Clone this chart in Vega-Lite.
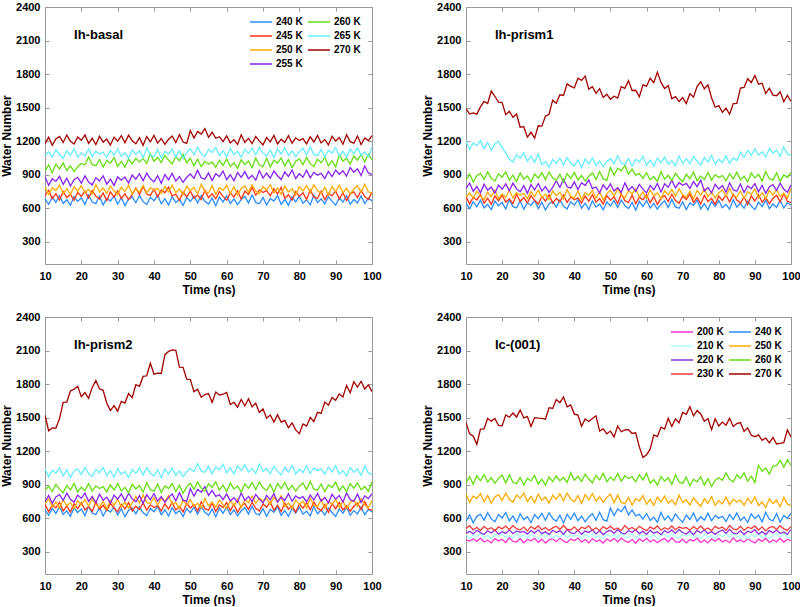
{
"$schema":"https://vega.github.io/schema/vega-lite/v6.json",
"background":"white",
"padding":{"left":0,"top":0,"right":2,"bottom":0},
"config":{"view":{"stroke":"#999999","strokeWidth":1},"font":"Liberation Sans",
"axis":{"domain":false,"grid":false,"tickColor":"#999999","tickSize":-4,"labelFlush":false,"minExtent":0,"labelFont":"Liberation Sans","labelFontWeight":"bold","labelFontSize":11,"labelColor":"#000000","titleFont":"Liberation Sans","titleFontWeight":"bold","titleFontSize":12,"titleColor":"#000000"},
"axisLeft":{"labelPadding":9,"titlePadding":2},
"axisBottom":{"labelPadding":10,"titlePadding":3}},
"datasets":{
"p1":[
{"t":10,"240":682,"245":712,"250":790,"255":881,"260":931,"265":1069,"270":1177},
{"t":11,"240":635,"245":760,"250":722,"255":804,"260":986,"265":1104,"270":1234},
{"t":12,"240":698,"245":685,"250":782,"255":863,"260":917,"265":1058,"270":1163},
{"t":13,"240":652,"245":730,"250":758,"255":839,"260":995,"265":1122,"270":1220},
{"t":14,"240":711,"245":673,"250":807,"255":884,"260":949,"265":1080,"270":1241},
{"t":15,"240":643,"245":749,"250":729,"255":812,"260":1005,"265":1046,"270":1188},
{"t":16,"240":675,"245":695,"250":774,"255":869,"260":937,"265":1113,"270":1254},
{"t":17,"240":626,"245":723,"250":720,"255":798,"260":978,"265":1073,"270":1198},
{"t":18,"240":703,"245":669,"250":794,"255":855,"260":926,"265":1131,"270":1173},
{"t":19,"240":661,"245":741,"250":751,"255":876,"260":971,"265":1055,"270":1237},
{"t":20,"240":692,"245":704,"250":802,"255":823,"260":1000,"265":1097,"270":1207},
{"t":21,"240":632,"245":753,"250":739,"255":889,"260":986,"265":1067,"270":1255},
{"t":22,"240":717,"245":690,"250":768,"255":833,"260":1058,"265":1129,"270":1180},
{"t":23,"240":655,"245":758,"250":725,"255":808,"260":991,"265":1061,"270":1225},
{"t":24,"240":641,"245":707,"250":811,"255":872,"260":979,"265":1109,"270":1168},
{"t":25,"240":706,"245":681,"250":744,"255":842,"260":1035,"265":1085,"270":1244},
{"t":26,"240":629,"245":736,"250":779,"255":890,"260":967,"265":1102,"270":1190},
{"t":27,"240":688,"245":667,"250":733,"255":815,"260":1027,"265":1055,"270":1218},
{"t":28,"240":664,"245":745,"250":797,"255":860,"260":1003,"265":1118,"270":1164},
{"t":29,"240":709,"245":699,"250":755,"255":803,"260":1052,"265":1072,"270":1236},
{"t":30,"240":637,"245":755,"250":721,"255":879,"260":974,"265":1131,"270":1199},
{"t":31,"240":694,"245":687,"250":788,"255":850,"260":1019,"265":1063,"270":1248},
{"t":32,"240":623,"245":728,"250":748,"255":878,"260":965,"265":1095,"270":1185},
{"t":33,"240":680,"245":676,"250":806,"255":824,"260":1039,"265":1046,"270":1253},
{"t":34,"240":701,"245":721,"250":730,"255":896,"260":996,"265":1123,"270":1202},
{"t":35,"240":648,"245":780,"250":772,"255":859,"260":1047,"265":1081,"270":1176},
{"t":36,"240":714,"245":721,"250":742,"255":908,"260":1014,"265":1112,"270":1231},
{"t":37,"240":658,"245":793,"250":804,"255":845,"260":1043,"265":1052,"270":1162},
{"t":38,"240":633,"245":726,"250":736,"255":913,"260":1000,"265":1137,"270":1240},
{"t":39,"240":697,"245":714,"250":784,"255":862,"260":1086,"265":1075,"270":1194},
{"t":40,"240":667,"245":770,"250":760,"255":836,"260":1019,"265":1061,"270":1250},
{"t":41,"240":715,"245":702,"250":777,"255":891,"260":1054,"265":1126,"270":1182},
{"t":42,"240":640,"245":762,"250":730,"255":822,"260":1008,"265":1049,"270":1223},
{"t":43,"240":685,"245":738,"250":793,"255":900,"260":1072,"265":1108,"270":1171},
{"t":44,"240":628,"245":787,"250":747,"255":854,"260":1030,"265":1084,"270":1216},
{"t":45,"240":704,"245":709,"250":806,"255":910,"260":996,"265":1129,"270":1245},
{"t":46,"240":650,"245":724,"250":738,"255":842,"260":1063,"265":1057,"270":1186},
{"t":47,"240":678,"245":670,"250":770,"255":883,"260":1023,"265":1114,"270":1258},
{"t":48,"240":624,"245":744,"250":721,"255":831,"260":1081,"265":1043,"270":1191},
{"t":49,"240":696,"245":701,"250":798,"255":876,"260":1005,"265":1100,"270":1179},
{"t":50,"240":659,"245":752,"250":756,"255":905,"260":1047,"265":1131,"270":1295},
{"t":51,"240":708,"245":689,"250":787,"255":866,"260":977,"265":1078,"270":1227},
{"t":52,"240":645,"245":718,"250":727,"255":938,"260":1039,"265":1144,"270":1287},
{"t":53,"240":713,"245":675,"250":812,"255":871,"260":971,"265":1088,"270":1263},
{"t":54,"240":662,"245":761,"250":750,"255":859,"260":1019,"265":1063,"270":1312},
{"t":55,"240":636,"245":694,"250":736,"255":915,"260":995,"265":1127,"270":1234},
{"t":56,"240":691,"245":729,"250":801,"255":847,"260":1012,"265":1097,"270":1279},
{"t":57,"240":622,"245":683,"250":724,"255":907,"260":965,"265":1145,"270":1225},
{"t":58,"240":700,"245":747,"250":783,"255":883,"260":1028,"265":1070,"270":1239},
{"t":59,"240":654,"245":705,"250":759,"255":932,"260":982,"265":1115,"270":1196},
{"t":60,"240":710,"245":671,"250":804,"255":854,"260":1041,"265":1058,"270":1247},
{"t":61,"240":642,"245":738,"250":732,"255":899,"260":973,"265":1134,"270":1184},
{"t":62,"240":683,"245":698,"250":789,"255":845,"260":1005,"265":1080,"270":1213},
{"t":63,"240":631,"245":756,"250":718,"255":919,"260":956,"265":1108,"270":1170},
{"t":64,"240":676,"245":680,"250":775,"255":876,"260":1033,"265":1054,"270":1256},
{"t":65,"240":705,"245":752,"250":796,"255":927,"260":991,"265":1126,"270":1189},
{"t":66,"240":646,"245":722,"250":743,"255":864,"260":1022,"265":1089,"270":1224},
{"t":67,"240":718,"245":784,"250":809,"255":893,"260":962,"265":1138,"270":1178},
{"t":68,"240":651,"245":716,"250":753,"255":850,"260":1047,"265":1075,"270":1242},
{"t":69,"240":639,"245":764,"250":728,"255":936,"260":985,"265":1143,"270":1200},
{"t":70,"240":695,"245":740,"250":792,"255":869,"260":971,"265":1092,"270":1166},
{"t":71,"240":627,"245":757,"250":762,"255":914,"260":1046,"265":1066,"270":1233},
{"t":72,"240":687,"245":710,"250":810,"255":868,"260":969,"265":1121,"270":1193},
{"t":73,"240":663,"245":773,"250":735,"255":932,"260":1028,"265":1052,"270":1251},
{"t":74,"240":712,"245":727,"250":780,"255":890,"260":1004,"265":1130,"270":1175},
{"t":75,"240":634,"245":786,"250":723,"255":856,"260":1049,"265":1084,"270":1217},
{"t":76,"240":679,"245":688,"250":799,"255":923,"260":977,"265":1140,"270":1187},
{"t":77,"240":625,"245":720,"250":745,"255":883,"260":1034,"265":1072,"270":1249},
{"t":78,"240":699,"245":671,"250":773,"255":941,"260":963,"265":1113,"270":1181},
{"t":79,"240":656,"245":748,"250":719,"255":865,"260":1020,"265":1061,"270":1229},
{"t":80,"240":707,"245":706,"250":791,"255":907,"260":1041,"265":1106,"270":1205},
{"t":81,"240":644,"245":737,"250":754,"255":877,"260":988,"265":1135,"270":1222},
{"t":82,"240":673,"245":677,"250":803,"255":939,"260":1054,"265":1076,"270":1175},
{"t":83,"240":630,"245":762,"250":740,"255":871,"260":998,"265":1148,"270":1238},
{"t":84,"240":716,"245":700,"250":808,"255":919,"260":973,"265":1081,"270":1192},
{"t":85,"240":649,"245":686,"250":757,"255":895,"260":1037,"265":1069,"270":1251},
{"t":86,"240":684,"245":751,"250":731,"255":912,"260":1007,"265":1125,"270":1183},
{"t":87,"240":638,"245":674,"250":786,"255":865,"260":1055,"265":1057,"270":1215},
{"t":88,"240":702,"245":733,"250":717,"255":928,"260":980,"265":1117,"270":1166},
{"t":89,"240":660,"245":709,"250":795,"255":882,"260":1025,"265":1093,"270":1243},
{"t":90,"240":626,"245":754,"250":749,"255":941,"260":968,"265":1142,"270":1201},
{"t":91,"240":693,"245":682,"250":805,"255":903,"260":1074,"265":1064,"270":1232},
{"t":92,"240":653,"245":739,"250":737,"255":935,"260":1020,"265":1109,"270":1172},
{"t":93,"240":711,"245":668,"250":778,"255":886,"260":1048,"265":1055,"270":1257},
{"t":94,"240":635,"245":725,"250":726,"255":963,"260":994,"265":1129,"270":1195},
{"t":95,"240":677,"245":746,"250":771,"255":921,"260":1066,"265":1086,"270":1181},
{"t":96,"240":647,"245":693,"250":800,"255":952,"260":1029,"265":1137,"270":1246},
{"t":97,"240":709,"245":759,"250":741,"255":892,"260":1078,"265":1074,"270":1169},
{"t":98,"240":641,"245":703,"250":813,"255":977,"260":1015,"265":1103,"270":1228},
{"t":99,"240":689,"245":678,"250":746,"255":915,"260":1083,"265":1060,"270":1204},
{"t":100,"240":665,"245":742,"250":734,"255":901,"260":1032,"265":1146,"270":1249}
],
"p2":[
{"t":10,"240":642,"245":705,"250":699,"255":777,"260":847,"265":1201,"270":1490},
{"t":11,"240":595,"245":637,"250":734,"255":825,"260":904,"265":1124,"270":1442},
{"t":12,"240":658,"245":697,"250":688,"255":750,"260":833,"265":1183,"270":1453},
{"t":13,"240":612,"245":673,"250":752,"255":795,"260":890,"265":1159,"270":1441},
{"t":14,"240":671,"245":722,"250":710,"255":738,"260":911,"265":1204,"270":1506},
{"t":15,"240":603,"245":644,"250":676,"255":814,"260":858,"265":1132,"270":1555},
{"t":16,"240":635,"245":689,"250":743,"255":760,"260":924,"265":1189,"270":1536},
{"t":17,"240":586,"245":635,"250":703,"255":788,"260":868,"265":1118,"270":1648},
{"t":18,"240":663,"245":709,"250":761,"255":734,"260":843,"265":1175,"270":1601},
{"t":19,"240":621,"245":666,"250":685,"255":806,"260":907,"265":1196,"270":1549},
{"t":20,"240":652,"245":717,"250":727,"255":769,"260":877,"265":1143,"270":1545},
{"t":21,"240":592,"245":654,"250":697,"255":818,"260":925,"265":1094,"270":1437},
{"t":22,"240":677,"245":683,"250":759,"255":755,"260":850,"265":1038,"270":1467},
{"t":23,"240":615,"245":640,"250":691,"255":823,"260":895,"265":1013,"270":1413},
{"t":24,"240":601,"245":726,"250":739,"255":772,"260":838,"265":1077,"270":1442},
{"t":25,"240":666,"245":659,"250":715,"255":746,"260":914,"265":1047,"270":1324},
{"t":26,"240":589,"245":694,"250":732,"255":801,"260":860,"265":1095,"270":1329},
{"t":27,"240":648,"245":648,"250":685,"255":732,"260":888,"265":1020,"270":1235},
{"t":28,"240":624,"245":712,"250":748,"255":810,"260":834,"265":1065,"270":1279},
{"t":29,"240":669,"245":670,"250":702,"255":764,"260":906,"265":1008,"270":1226},
{"t":30,"240":597,"245":636,"250":761,"255":820,"260":869,"265":1084,"270":1337},
{"t":31,"240":654,"245":703,"250":693,"255":752,"260":918,"265":990,"270":1334},
{"t":32,"240":583,"245":663,"250":725,"255":793,"260":855,"265":1018,"270":1423},
{"t":33,"240":640,"245":721,"250":676,"255":741,"260":923,"265":964,"270":1440},
{"t":34,"240":661,"245":645,"250":753,"255":786,"260":872,"265":1036,"270":1566},
{"t":35,"240":608,"245":687,"250":711,"255":845,"260":846,"265":999,"270":1539},
{"t":36,"240":674,"245":657,"250":742,"255":786,"260":901,"265":1048,"270":1614},
{"t":37,"240":618,"245":719,"250":682,"255":858,"260":832,"265":985,"270":1608},
{"t":38,"240":593,"245":651,"250":767,"255":791,"260":910,"265":1053,"270":1712},
{"t":39,"240":657,"245":699,"250":705,"255":779,"260":864,"265":1002,"270":1690},
{"t":40,"240":627,"245":675,"250":691,"255":835,"260":920,"265":976,"270":1676},
{"t":41,"240":675,"245":692,"250":756,"255":767,"260":852,"265":1031,"270":1763},
{"t":42,"240":600,"245":645,"250":679,"255":827,"260":893,"265":962,"270":1743},
{"t":43,"240":645,"245":708,"250":738,"255":803,"260":841,"265":1040,"270":1781},
{"t":44,"240":588,"245":662,"250":714,"255":852,"260":886,"265":994,"270":1665},
{"t":45,"240":664,"245":721,"250":759,"255":774,"260":915,"265":1050,"270":1687},
{"t":46,"240":610,"245":653,"250":687,"255":789,"260":856,"265":982,"270":1627},
{"t":47,"240":638,"245":685,"250":744,"255":735,"260":928,"265":1023,"270":1669},
{"t":48,"240":584,"245":636,"250":673,"255":809,"260":861,"265":971,"270":1591},
{"t":49,"240":656,"245":713,"250":730,"255":766,"260":849,"265":1016,"270":1619},
{"t":50,"240":619,"245":671,"250":761,"255":817,"260":965,"265":1045,"270":1575},
{"t":51,"240":668,"245":702,"250":708,"255":754,"260":897,"265":996,"270":1602},
{"t":52,"240":605,"245":642,"250":774,"255":783,"260":957,"265":1068,"270":1585},
{"t":53,"240":673,"245":727,"250":718,"255":740,"260":933,"265":1001,"270":1688},
{"t":54,"240":622,"245":665,"250":693,"255":826,"260":982,"265":989,"270":1672},
{"t":55,"240":596,"245":651,"250":757,"255":759,"260":904,"265":1045,"270":1741},
{"t":56,"240":651,"245":716,"250":727,"255":794,"260":949,"265":977,"270":1653},
{"t":57,"240":582,"245":639,"250":775,"255":748,"260":895,"265":1037,"270":1655},
{"t":58,"240":660,"245":698,"250":700,"255":812,"260":909,"265":1013,"270":1596},
{"t":59,"240":614,"245":674,"250":745,"255":770,"260":866,"265":1062,"270":1703},
{"t":60,"240":670,"245":719,"250":688,"255":736,"260":917,"265":984,"270":1691},
{"t":61,"240":602,"245":647,"250":764,"255":803,"260":854,"265":1029,"270":1762},
{"t":62,"240":643,"245":704,"250":710,"255":763,"260":883,"265":975,"270":1722},
{"t":63,"240":591,"245":633,"250":738,"255":821,"260":840,"265":1049,"270":1817},
{"t":64,"240":636,"245":690,"250":684,"255":745,"260":926,"265":1006,"270":1725},
{"t":65,"240":665,"245":711,"250":756,"255":817,"260":859,"265":1057,"270":1671},
{"t":66,"240":606,"245":658,"250":719,"255":787,"260":894,"265":994,"270":1696},
{"t":67,"240":678,"245":724,"250":768,"255":849,"260":848,"265":1023,"270":1579},
{"t":68,"240":611,"245":668,"250":705,"255":781,"260":912,"265":980,"270":1598},
{"t":69,"240":599,"245":643,"250":773,"255":829,"260":870,"265":1066,"270":1554},
{"t":70,"240":655,"245":707,"250":722,"255":805,"260":836,"265":999,"270":1589},
{"t":71,"240":587,"245":677,"250":696,"255":822,"260":903,"265":1044,"270":1537},
{"t":72,"240":647,"245":725,"250":751,"255":775,"260":863,"265":998,"270":1624},
{"t":73,"240":623,"245":650,"250":682,"255":838,"260":921,"265":1062,"270":1593},
{"t":74,"240":672,"245":695,"250":760,"255":792,"260":845,"265":1020,"270":1690},
{"t":75,"240":594,"245":638,"250":714,"255":851,"260":887,"265":986,"270":1731},
{"t":76,"240":639,"245":714,"250":770,"255":753,"260":857,"265":1053,"270":1668},
{"t":77,"240":585,"245":660,"250":702,"255":785,"260":919,"265":1013,"270":1704},
{"t":78,"240":659,"245":688,"250":743,"255":736,"260":851,"265":1071,"270":1588},
{"t":79,"240":616,"245":634,"250":691,"255":813,"260":899,"265":995,"270":1503},
{"t":80,"240":667,"245":706,"250":736,"255":771,"260":875,"265":1037,"270":1517},
{"t":81,"240":604,"245":669,"250":765,"255":802,"260":892,"265":1007,"270":1457},
{"t":82,"240":633,"245":718,"250":706,"255":742,"260":845,"265":1069,"270":1495},
{"t":83,"240":590,"245":655,"250":778,"255":827,"260":908,"265":1001,"270":1440},
{"t":84,"240":676,"245":723,"250":711,"255":765,"260":862,"265":1049,"270":1535},
{"t":85,"240":609,"245":672,"250":699,"255":751,"260":921,"265":1025,"270":1538},
{"t":86,"240":644,"245":646,"250":755,"255":816,"260":853,"265":1102,"270":1674},
{"t":87,"240":598,"245":701,"250":687,"255":739,"260":885,"265":1055,"270":1680},
{"t":88,"240":662,"245":632,"250":747,"255":798,"260":836,"265":1118,"270":1758},
{"t":89,"240":620,"245":710,"250":723,"255":774,"260":913,"265":1072,"270":1724},
{"t":90,"240":586,"245":664,"250":772,"255":819,"260":871,"265":1131,"270":1786},
{"t":91,"240":653,"245":720,"250":694,"255":747,"260":902,"265":1073,"270":1709},
{"t":92,"240":613,"245":652,"250":739,"255":804,"260":842,"265":1105,"270":1718},
{"t":93,"240":671,"245":693,"250":685,"255":733,"260":927,"265":1056,"270":1625},
{"t":94,"240":595,"245":641,"250":759,"255":790,"260":865,"265":1133,"270":1673},
{"t":95,"240":637,"245":686,"250":716,"255":811,"260":851,"265":1091,"270":1612},
{"t":96,"240":607,"245":715,"250":767,"255":758,"260":916,"265":1122,"270":1606},
{"t":97,"240":669,"245":656,"250":704,"255":824,"260":839,"265":1062,"270":1641},
{"t":98,"240":601,"245":728,"250":733,"255":768,"260":898,"265":1147,"270":1552},
{"t":99,"240":649,"245":661,"250":690,"255":743,"260":874,"265":1085,"270":1610},
{"t":100,"240":625,"245":649,"250":776,"255":807,"260":919,"265":1071,"270":1554}
],
"p3":[
{"t":10,"240":672,"245":725,"250":727,"255":747,"260":849,"265":1046,"270":1522},
{"t":11,"240":625,"245":657,"250":775,"255":804,"260":884,"265":969,"270":1382},
{"t":12,"240":688,"245":717,"250":700,"255":733,"260":838,"265":1028,"270":1407},
{"t":13,"240":642,"245":693,"250":745,"255":790,"260":902,"265":1004,"270":1405},
{"t":14,"240":701,"245":742,"250":688,"255":811,"260":860,"265":1049,"270":1491},
{"t":15,"240":633,"245":664,"250":764,"255":758,"260":826,"265":977,"270":1636},
{"t":16,"240":665,"245":709,"250":710,"255":824,"260":893,"265":1034,"270":1639},
{"t":17,"240":616,"245":655,"250":738,"255":768,"260":853,"265":963,"270":1738},
{"t":18,"240":693,"245":729,"250":684,"255":743,"260":911,"265":1020,"270":1754},
{"t":19,"240":651,"245":686,"250":756,"255":807,"260":835,"265":1041,"270":1779},
{"t":20,"240":682,"245":737,"250":719,"255":777,"260":877,"265":988,"270":1687},
{"t":21,"240":622,"245":674,"250":768,"255":825,"260":847,"265":1054,"270":1724},
{"t":22,"240":707,"245":703,"250":705,"255":750,"260":909,"265":998,"270":1673},
{"t":23,"240":645,"245":660,"250":773,"255":795,"260":841,"265":973,"270":1770},
{"t":24,"240":631,"245":746,"250":722,"255":738,"260":889,"265":1037,"270":1831},
{"t":25,"240":696,"245":679,"250":696,"255":814,"260":865,"265":1007,"270":1758},
{"t":26,"240":619,"245":714,"250":751,"255":760,"260":882,"265":1055,"270":1744},
{"t":27,"240":678,"245":668,"250":682,"255":788,"260":835,"265":980,"270":1628},
{"t":28,"240":654,"245":732,"250":760,"255":734,"260":898,"265":1025,"270":1563},
{"t":29,"240":699,"245":690,"250":714,"255":806,"260":852,"265":968,"270":1607},
{"t":30,"240":627,"245":656,"250":770,"255":769,"260":911,"265":1044,"270":1557},
{"t":31,"240":684,"245":723,"250":702,"255":818,"260":843,"265":990,"270":1645},
{"t":32,"240":613,"245":683,"250":743,"255":755,"260":875,"265":1018,"270":1630},
{"t":33,"240":670,"245":741,"250":691,"255":823,"260":826,"265":964,"270":1715},
{"t":34,"240":691,"245":665,"250":736,"255":772,"260":903,"265":1036,"270":1678},
{"t":35,"240":638,"245":707,"250":795,"255":746,"260":861,"265":999,"270":1794},
{"t":36,"240":704,"245":677,"250":736,"255":801,"260":892,"265":1048,"270":1780},
{"t":37,"240":648,"245":739,"250":808,"255":732,"260":832,"265":985,"270":1868},
{"t":38,"240":623,"245":671,"250":741,"255":810,"260":917,"265":1053,"270":1874},
{"t":39,"240":687,"245":719,"250":729,"255":764,"260":855,"265":1002,"270":1986},
{"t":40,"240":657,"245":695,"250":785,"255":820,"260":841,"265":976,"270":1889},
{"t":41,"240":705,"245":712,"250":717,"255":752,"260":906,"265":1031,"270":1898},
{"t":42,"240":630,"245":665,"250":777,"255":793,"260":829,"265":962,"270":1895},
{"t":43,"240":675,"245":728,"250":753,"255":741,"260":888,"265":1040,"270":2063},
{"t":44,"240":618,"245":682,"250":802,"255":786,"260":864,"265":994,"270":2092},
{"t":45,"240":694,"245":741,"250":724,"255":815,"260":909,"265":1050,"270":2106},
{"t":46,"240":640,"245":673,"250":739,"255":756,"260":837,"265":982,"270":2101},
{"t":47,"240":668,"245":705,"250":685,"255":828,"260":894,"265":1023,"270":1952},
{"t":48,"240":614,"245":656,"250":759,"255":761,"260":823,"265":971,"270":1950},
{"t":49,"240":686,"245":733,"250":716,"255":749,"260":880,"265":1016,"270":1844},
{"t":50,"240":649,"245":691,"250":767,"255":865,"260":911,"265":1045,"270":1840},
{"t":51,"240":698,"245":722,"250":704,"255":797,"260":858,"265":1016,"270":1732},
{"t":52,"240":635,"245":662,"250":733,"255":857,"260":924,"265":1088,"270":1753},
{"t":53,"240":703,"245":747,"250":690,"255":833,"260":868,"265":1021,"270":1681},
{"t":54,"240":652,"245":685,"250":776,"255":882,"260":843,"265":1009,"270":1706},
{"t":55,"240":626,"245":671,"250":709,"255":804,"260":907,"265":1065,"270":1715},
{"t":56,"240":681,"245":736,"250":744,"255":849,"260":877,"265":997,"270":1636},
{"t":57,"240":612,"245":659,"250":698,"255":795,"260":925,"265":1057,"270":1728},
{"t":58,"240":690,"245":718,"250":762,"255":809,"260":850,"265":1033,"270":1701},
{"t":59,"240":644,"245":694,"250":720,"255":766,"260":895,"265":1082,"270":1709},
{"t":60,"240":700,"245":739,"250":686,"255":817,"260":838,"265":1004,"270":1725},
{"t":61,"240":632,"245":667,"250":753,"255":754,"260":914,"265":1049,"270":1617},
{"t":62,"240":673,"245":724,"250":713,"255":783,"260":860,"265":995,"270":1637},
{"t":63,"240":621,"245":653,"250":771,"255":740,"260":888,"265":1069,"270":1593},
{"t":64,"240":666,"245":710,"250":695,"255":826,"260":834,"265":1026,"270":1662},
{"t":65,"240":695,"245":731,"250":767,"255":759,"260":906,"265":1077,"270":1604},
{"t":66,"240":636,"245":678,"250":737,"255":794,"260":869,"265":1014,"270":1669},
{"t":67,"240":708,"245":744,"250":799,"255":748,"260":918,"265":1043,"270":1595},
{"t":68,"240":641,"245":688,"250":731,"255":812,"260":855,"265":1000,"270":1629},
{"t":69,"240":629,"245":663,"250":779,"255":770,"260":923,"265":1086,"270":1546},
{"t":70,"240":685,"245":727,"250":755,"255":736,"260":872,"265":1019,"270":1577},
{"t":71,"240":617,"245":697,"250":772,"255":803,"260":846,"265":1044,"270":1494},
{"t":72,"240":677,"245":745,"250":725,"255":763,"260":901,"265":998,"270":1523},
{"t":73,"240":653,"245":670,"250":788,"255":821,"260":832,"265":1062,"270":1460},
{"t":74,"240":702,"245":715,"250":742,"255":745,"260":910,"265":1020,"270":1526},
{"t":75,"240":624,"245":658,"250":801,"255":787,"260":864,"265":986,"270":1459},
{"t":76,"240":669,"245":734,"250":703,"255":757,"260":920,"265":1053,"270":1474},
{"t":77,"240":615,"245":680,"250":735,"255":819,"260":852,"265":1013,"270":1408},
{"t":78,"240":689,"245":708,"250":686,"255":751,"260":893,"265":1071,"270":1452},
{"t":79,"240":646,"245":654,"250":763,"255":799,"260":841,"265":995,"270":1390},
{"t":80,"240":697,"245":726,"250":721,"255":775,"260":886,"265":1037,"270":1356},
{"t":81,"240":634,"245":689,"250":752,"255":792,"260":915,"265":1007,"270":1443},
{"t":82,"240":663,"245":738,"250":692,"255":745,"260":856,"265":1069,"270":1423},
{"t":83,"240":620,"245":675,"250":777,"255":808,"260":928,"265":1001,"270":1501},
{"t":84,"240":706,"245":743,"250":715,"255":762,"260":861,"265":1049,"270":1465},
{"t":85,"240":639,"245":692,"250":701,"255":821,"260":849,"265":1025,"270":1547},
{"t":86,"240":674,"245":666,"250":766,"255":753,"260":905,"265":1042,"270":1537},
{"t":87,"240":628,"245":721,"250":689,"255":785,"260":837,"265":995,"270":1639},
{"t":88,"240":692,"245":652,"250":748,"255":736,"260":897,"265":1058,"270":1611},
{"t":89,"240":650,"245":730,"250":724,"255":813,"260":873,"265":1012,"270":1679},
{"t":90,"240":616,"245":684,"250":769,"255":771,"260":922,"265":1071,"270":1655},
{"t":91,"240":683,"245":740,"250":697,"255":802,"260":844,"265":993,"270":1712},
{"t":92,"240":643,"245":672,"250":754,"255":742,"260":889,"265":1025,"270":1685},
{"t":93,"240":701,"245":713,"250":683,"255":827,"260":835,"265":976,"270":1788},
{"t":94,"240":625,"245":661,"250":740,"255":765,"260":909,"265":1053,"270":1722},
{"t":95,"240":667,"245":706,"250":761,"255":751,"260":866,"265":1011,"270":1821},
{"t":96,"240":637,"245":735,"250":708,"255":816,"260":917,"265":1042,"270":1773},
{"t":97,"240":699,"245":676,"250":774,"255":739,"260":854,"265":982,"270":1825},
{"t":98,"240":631,"245":748,"250":718,"255":798,"260":883,"265":1067,"270":1756},
{"t":99,"240":679,"245":681,"250":693,"255":774,"260":840,"265":1005,"270":1793},
{"t":100,"240":655,"245":669,"250":757,"255":819,"260":926,"265":991,"270":1731}
],
"p4":[
{"t":10,"200":406,"210":452,"220":465,"230":508,"240":572,"250":816,"260":916,"270":1457},
{"t":11,"200":394,"210":418,"220":482,"230":532,"240":629,"250":739,"260":971,"270":1354},
{"t":12,"200":414,"210":448,"220":459,"230":495,"240":558,"250":798,"260":902,"270":1333},
{"t":13,"200":391,"210":436,"220":491,"230":518,"240":615,"250":774,"260":980,"270":1260},
{"t":14,"200":420,"210":461,"220":470,"230":489,"240":636,"250":819,"260":934,"270":1396},
{"t":15,"200":386,"210":422,"220":453,"230":527,"240":583,"250":747,"260":990,"270":1399},
{"t":16,"200":402,"210":444,"220":487,"230":500,"240":649,"250":804,"260":922,"270":1494},
{"t":17,"200":378,"210":418,"220":467,"230":514,"240":593,"250":733,"260":963,"270":1468},
{"t":18,"200":416,"210":454,"220":495,"230":487,"240":568,"250":790,"260":911,"270":1492},
{"t":19,"200":396,"210":433,"220":457,"230":523,"240":632,"250":811,"260":956,"270":1430},
{"t":20,"200":411,"210":458,"220":479,"230":504,"240":602,"250":758,"260":985,"270":1426},
{"t":21,"200":381,"210":427,"220":463,"230":529,"240":650,"250":824,"260":916,"270":1523},
{"t":22,"200":424,"210":442,"220":495,"230":498,"240":575,"250":768,"260":988,"270":1503},
{"t":23,"200":392,"210":420,"220":461,"230":532,"240":620,"250":743,"260":921,"270":1541},
{"t":24,"200":386,"210":463,"220":485,"230":506,"240":563,"250":807,"260":909,"270":1505},
{"t":25,"200":418,"210":430,"220":473,"230":493,"240":639,"250":777,"260":965,"270":1567},
{"t":26,"200":380,"210":447,"220":481,"230":520,"240":585,"250":825,"260":897,"270":1497},
{"t":27,"200":409,"210":424,"220":457,"230":486,"240":613,"250":750,"260":957,"270":1509},
{"t":28,"200":397,"210":456,"220":489,"230":525,"240":559,"250":795,"260":933,"270":1421},
{"t":29,"200":420,"210":435,"220":466,"230":502,"240":631,"250":738,"260":982,"270":1499},
{"t":30,"200":384,"210":418,"220":495,"230":530,"240":594,"250":814,"260":904,"270":1495},
{"t":31,"200":412,"210":452,"220":461,"230":496,"240":643,"250":760,"260":949,"270":1492},
{"t":32,"200":376,"210":432,"220":477,"230":516,"240":580,"250":788,"260":895,"270":1485},
{"t":33,"200":405,"210":460,"220":453,"230":490,"240":648,"250":734,"260":969,"270":1588},
{"t":34,"200":416,"210":422,"220":491,"230":513,"240":597,"250":806,"260":926,"270":1582},
{"t":35,"200":389,"210":444,"220":471,"230":528,"240":571,"250":769,"260":977,"270":1661},
{"t":36,"200":422,"210":428,"220":486,"230":498,"240":626,"250":818,"260":934,"270":1633},
{"t":37,"200":394,"210":460,"220":456,"230":534,"240":557,"250":755,"260":963,"270":1685},
{"t":38,"200":382,"210":426,"220":499,"230":500,"240":635,"250":823,"260":920,"270":1596},
{"t":39,"200":414,"210":450,"220":467,"230":494,"240":589,"250":772,"260":1006,"270":1613},
{"t":40,"200":398,"210":438,"220":461,"230":522,"240":645,"250":746,"260":939,"270":1531},
{"t":41,"200":422,"210":446,"220":493,"230":488,"240":577,"250":801,"260":974,"270":1522},
{"t":42,"200":385,"210":422,"220":455,"230":518,"240":618,"250":732,"260":928,"270":1422},
{"t":43,"200":408,"210":454,"220":484,"230":506,"240":566,"250":810,"260":992,"270":1487},
{"t":44,"200":379,"210":431,"220":472,"230":531,"240":611,"250":764,"260":950,"270":1465},
{"t":45,"200":417,"210":460,"220":495,"230":492,"240":640,"250":820,"260":916,"270":1491},
{"t":46,"200":390,"210":426,"220":459,"230":514,"240":581,"250":752,"260":983,"270":1516},
{"t":47,"200":404,"210":442,"220":487,"230":488,"240":653,"250":793,"260":943,"270":1379},
{"t":48,"200":377,"210":418,"220":451,"230":524,"240":586,"250":741,"260":1001,"270":1398},
{"t":49,"200":413,"210":456,"220":480,"230":503,"240":574,"250":786,"260":925,"270":1354},
{"t":50,"200":394,"210":436,"220":491,"230":528,"240":690,"250":815,"260":967,"270":1379},
{"t":51,"200":419,"210":451,"220":464,"230":497,"240":622,"250":736,"260":937,"270":1327},
{"t":52,"200":388,"210":421,"220":497,"230":512,"240":682,"250":808,"260":999,"270":1424},
{"t":53,"200":422,"210":464,"220":469,"230":490,"240":658,"250":741,"260":931,"270":1373},
{"t":54,"200":396,"210":432,"220":457,"230":533,"240":707,"250":729,"260":979,"270":1390},
{"t":55,"200":383,"210":426,"220":489,"230":500,"240":629,"250":785,"260":955,"270":1391},
{"t":56,"200":410,"210":458,"220":473,"230":517,"240":674,"250":717,"260":972,"270":1358},
{"t":57,"200":376,"210":420,"220":497,"230":494,"240":620,"250":777,"260":925,"270":1364},
{"t":58,"200":415,"210":449,"220":460,"230":526,"240":634,"250":753,"260":988,"270":1238},
{"t":59,"200":392,"210":437,"220":483,"230":505,"240":591,"250":802,"260":942,"270":1143},
{"t":60,"200":420,"210":460,"220":454,"230":488,"240":642,"250":724,"260":1001,"270":1167},
{"t":61,"200":386,"210":424,"220":492,"230":522,"240":579,"250":769,"260":913,"270":1217},
{"t":62,"200":406,"210":452,"220":465,"230":502,"240":608,"250":715,"260":945,"270":1345},
{"t":63,"200":380,"210":416,"220":479,"230":530,"240":565,"250":789,"260":896,"270":1330},
{"t":64,"200":403,"210":445,"220":452,"230":492,"240":651,"250":746,"260":973,"270":1415},
{"t":65,"200":418,"210":456,"220":488,"230":514,"240":584,"250":797,"260":931,"270":1398},
{"t":66,"200":388,"210":429,"220":469,"230":498,"240":619,"250":734,"260":962,"270":1494},
{"t":67,"200":424,"210":462,"220":494,"230":530,"240":573,"250":763,"260":902,"270":1420},
{"t":68,"200":390,"210":434,"220":463,"230":496,"240":637,"250":720,"260":987,"270":1488},
{"t":69,"200":384,"210":422,"220":497,"230":520,"240":595,"250":806,"260":925,"270":1454},
{"t":70,"200":412,"210":454,"220":471,"230":508,"240":561,"250":739,"260":911,"270":1546},
{"t":71,"200":378,"210":438,"220":458,"230":516,"240":628,"250":764,"260":966,"270":1529},
{"t":72,"200":408,"210":462,"220":485,"230":492,"240":588,"250":718,"260":889,"270":1598},
{"t":73,"200":396,"210":425,"220":451,"230":524,"240":646,"250":782,"260":948,"270":1515},
{"t":74,"200":421,"210":448,"220":490,"230":501,"240":570,"250":740,"260":924,"270":1563},
{"t":75,"200":382,"210":419,"220":467,"230":530,"240":612,"250":706,"260":969,"270":1532},
{"t":76,"200":404,"210":457,"220":495,"230":496,"240":582,"250":773,"260":897,"270":1466},
{"t":77,"200":378,"210":430,"220":461,"230":512,"240":644,"250":733,"260":954,"270":1491},
{"t":78,"200":414,"210":444,"220":481,"230":488,"240":576,"250":791,"260":883,"270":1392},
{"t":79,"200":393,"210":417,"220":455,"230":526,"240":624,"250":715,"260":940,"270":1490},
{"t":80,"200":418,"210":453,"220":478,"230":506,"240":600,"250":757,"260":961,"270":1424},
{"t":81,"200":387,"210":434,"220":493,"230":521,"240":617,"250":727,"260":938,"270":1460},
{"t":82,"200":402,"210":459,"220":463,"230":491,"240":570,"250":789,"260":1004,"270":1432},
{"t":83,"200":380,"210":428,"220":499,"230":534,"240":633,"250":721,"260":948,"270":1493},
{"t":84,"200":423,"210":462,"220":465,"230":502,"240":587,"250":769,"260":923,"270":1421},
{"t":85,"200":390,"210":436,"220":459,"230":496,"240":646,"250":745,"260":987,"270":1446},
{"t":86,"200":407,"210":423,"220":487,"230":528,"240":578,"250":762,"260":957,"270":1455},
{"t":87,"200":384,"210":450,"220":453,"230":490,"240":610,"250":715,"260":1005,"270":1376},
{"t":88,"200":416,"210":416,"220":483,"230":519,"240":561,"250":778,"260":930,"270":1408},
{"t":89,"200":395,"210":455,"220":471,"230":507,"240":638,"250":732,"260":975,"270":1341},
{"t":90,"200":378,"210":432,"220":496,"230":530,"240":596,"250":791,"260":918,"270":1329},
{"t":91,"200":412,"210":460,"220":457,"230":494,"240":627,"250":713,"260":1074,"270":1345},
{"t":92,"200":392,"210":426,"220":479,"230":522,"240":567,"250":745,"260":1020,"270":1297},
{"t":93,"200":420,"210":446,"220":453,"230":486,"240":652,"250":696,"260":1048,"270":1317},
{"t":94,"200":382,"210":420,"220":489,"230":515,"240":590,"250":773,"260":994,"270":1273},
{"t":95,"200":404,"210":443,"220":468,"230":526,"240":576,"250":731,"260":1066,"270":1322},
{"t":96,"200":388,"210":458,"220":493,"230":499,"240":641,"250":762,"260":1069,"270":1264},
{"t":97,"200":420,"210":428,"220":462,"230":532,"240":564,"250":702,"260":1118,"270":1269},
{"t":98,"200":386,"210":464,"220":477,"230":504,"240":623,"250":787,"260":1055,"270":1275},
{"t":99,"200":410,"210":430,"220":455,"230":492,"240":599,"250":725,"260":1123,"270":1389},
{"t":100,"200":398,"210":424,"220":498,"230":524,"240":644,"250":711,"260":1072,"270":1326}
]
},
"columns":2,
"spacing":{"row":53,"column":94},
"bounds":"flush",
"resolve":{"scale":{"color":"independent"},"legend":{"color":"independent"}},
"concat":[
{"width":327,"height":257,"layer":[
{"data":{"name":"p1"},"transform":[{"fold":["240","245","250","255","260","265","270"],"as":["temp","count"]}],
"mark":{"type":"line","strokeWidth":1.3,"clip":true},
"encoding":{
"x":{"field":"t","type":"quantitative","scale":{"domain":[10,100],"nice":false,"zero":false},"axis":{"orient":"bottom","values":[10,20,30,40,50,60,70,80,90,100],"title":"Time (ns)"}},
"y":{"field":"count","type":"quantitative","scale":{"domain":[100,2400],"nice":false,"zero":false},"axis":{"orient":"left","values":[300,600,900,1200,1500,1800,2100,2400],"format":"d","title":"Water Number"}},
"color":{"field":"temp","type":"nominal","scale":{"domain":["240","245","250","255","260","265","270"],"range":["#2b8cff","#ff3311","#ffaa00","#8822ee","#66dd11","#66eeff","#a30000"]},
"legend":{"orient":"none","legendX":210,"legendY":9,"columns":2,"title":null,"symbolType":"M-2.2,0H2.2","symbolSize":100,"symbolStrokeWidth":1.5,"labelExpr":"datum.label + ' K'","labelFont":"Liberation Sans","labelFontSize":10,"labelFontWeight":"bold","labelColor":"#000000","labelOffset":9,"columnPadding":2,"rowPadding":3,"padding":0}}}},
{"data":{"values":[{"label":"Ih-basal"}]},
"mark":{"type":"text","align":"left","baseline":"middle","font":"Liberation Sans","fontSize":13,"fontWeight":"bold","color":"#000000"},
"encoding":{
"x":{"datum":18,"type":"quantitative","scale":{"domain":[10,100],"nice":false,"zero":false},"axis":{"orient":"top","labels":false,"title":null,"values":[10,20,30,40,50,60,70,80,90,100]}},
"y":{"datum":2150,"type":"quantitative","scale":{"domain":[100,2400],"nice":false,"zero":false},"axis":{"orient":"right","labels":false,"title":null,"values":[300,600,900,1200,1500,1800,2100,2400]}},
"text":{"field":"label"}}}
]},
{"width":325,"height":257,"layer":[
{"data":{"name":"p2"},"transform":[{"fold":["240","245","250","255","260","265","270"],"as":["temp","count"]}],
"mark":{"type":"line","strokeWidth":1.3,"clip":true},
"encoding":{
"x":{"field":"t","type":"quantitative","scale":{"domain":[10,100],"nice":false,"zero":false},"axis":{"orient":"bottom","values":[10,20,30,40,50,60,70,80,90,100],"title":"Time (ns)"}},
"y":{"field":"count","type":"quantitative","scale":{"domain":[100,2400],"nice":false,"zero":false},"axis":{"orient":"left","values":[300,600,900,1200,1500,1800,2100,2400],"format":"d","title":"Water Number"}},
"color":{"field":"temp","type":"nominal","scale":{"domain":["240","245","250","255","260","265","270"],"range":["#2b8cff","#ff3311","#ffaa00","#8822ee","#66dd11","#66eeff","#a30000"]},"legend":null}}},
{"data":{"values":[{"label":"Ih-prism1"}]},
"mark":{"type":"text","align":"left","baseline":"middle","font":"Liberation Sans","fontSize":13,"fontWeight":"bold","color":"#000000"},
"encoding":{
"x":{"datum":18,"type":"quantitative","scale":{"domain":[10,100],"nice":false,"zero":false},"axis":{"orient":"top","labels":false,"title":null,"values":[10,20,30,40,50,60,70,80,90,100]}},
"y":{"datum":2150,"type":"quantitative","scale":{"domain":[100,2400],"nice":false,"zero":false},"axis":{"orient":"right","labels":false,"title":null,"values":[300,600,900,1200,1500,1800,2100,2400]}},
"text":{"field":"label"}}}
]},
{"width":327,"height":257,"layer":[
{"data":{"name":"p3"},"transform":[{"fold":["240","245","250","255","260","265","270"],"as":["temp","count"]}],
"mark":{"type":"line","strokeWidth":1.3,"clip":true},
"encoding":{
"x":{"field":"t","type":"quantitative","scale":{"domain":[10,100],"nice":false,"zero":false},"axis":{"orient":"bottom","values":[10,20,30,40,50,60,70,80,90,100],"title":"Time (ns)"}},
"y":{"field":"count","type":"quantitative","scale":{"domain":[100,2400],"nice":false,"zero":false},"axis":{"orient":"left","values":[300,600,900,1200,1500,1800,2100,2400],"format":"d","title":"Water Number"}},
"color":{"field":"temp","type":"nominal","scale":{"domain":["240","245","250","255","260","265","270"],"range":["#2b8cff","#ff3311","#ffaa00","#8822ee","#66dd11","#66eeff","#a30000"]},"legend":null}}},
{"data":{"values":[{"label":"Ih-prism2"}]},
"mark":{"type":"text","align":"left","baseline":"middle","font":"Liberation Sans","fontSize":13,"fontWeight":"bold","color":"#000000"},
"encoding":{
"x":{"datum":18,"type":"quantitative","scale":{"domain":[10,100],"nice":false,"zero":false},"axis":{"orient":"top","labels":false,"title":null,"values":[10,20,30,40,50,60,70,80,90,100]}},
"y":{"datum":2150,"type":"quantitative","scale":{"domain":[100,2400],"nice":false,"zero":false},"axis":{"orient":"right","labels":false,"title":null,"values":[300,600,900,1200,1500,1800,2100,2400]}},
"text":{"field":"label"}}}
]},
{"width":325,"height":257,"layer":[
{"data":{"name":"p4"},"transform":[{"fold":["200","210","220","230","240","250","260","270"],"as":["temp","count"]}],
"mark":{"type":"line","strokeWidth":1.3,"clip":true},
"encoding":{
"x":{"field":"t","type":"quantitative","scale":{"domain":[10,100],"nice":false,"zero":false},"axis":{"orient":"bottom","values":[10,20,30,40,50,60,70,80,90,100],"title":"Time (ns)"}},
"y":{"field":"count","type":"quantitative","scale":{"domain":[100,2400],"nice":false,"zero":false},"axis":{"orient":"left","values":[300,600,900,1200,1500,1800,2100,2400],"format":"d","title":"Water Number"}},
"color":{"field":"temp","type":"nominal","scale":{"domain":["200","210","220","230","240","250","260","270"],"range":["#ff33cc","#aaffff","#8833dd","#f03c3c","#2b8cff","#ffaa00","#66dd11","#a30000"]},
"legend":{"orient":"none","legendX":210,"legendY":9,"columns":2,"title":null,"symbolType":"M-2.2,0H2.2","symbolSize":100,"symbolStrokeWidth":1.5,"labelExpr":"datum.label + ' K'","labelFont":"Liberation Sans","labelFontSize":10,"labelFontWeight":"bold","labelColor":"#000000","labelOffset":9,"columnPadding":2,"rowPadding":3,"padding":0}}}},
{"data":{"values":[{"label":"Ic-(001)"}]},
"mark":{"type":"text","align":"left","baseline":"middle","font":"Liberation Sans","fontSize":13,"fontWeight":"bold","color":"#000000"},
"encoding":{
"x":{"datum":18,"type":"quantitative","scale":{"domain":[10,100],"nice":false,"zero":false},"axis":{"orient":"top","labels":false,"title":null,"values":[10,20,30,40,50,60,70,80,90,100]}},
"y":{"datum":2150,"type":"quantitative","scale":{"domain":[100,2400],"nice":false,"zero":false},"axis":{"orient":"right","labels":false,"title":null,"values":[300,600,900,1200,1500,1800,2100,2400]}},
"text":{"field":"label"}}}
]}
]
}
